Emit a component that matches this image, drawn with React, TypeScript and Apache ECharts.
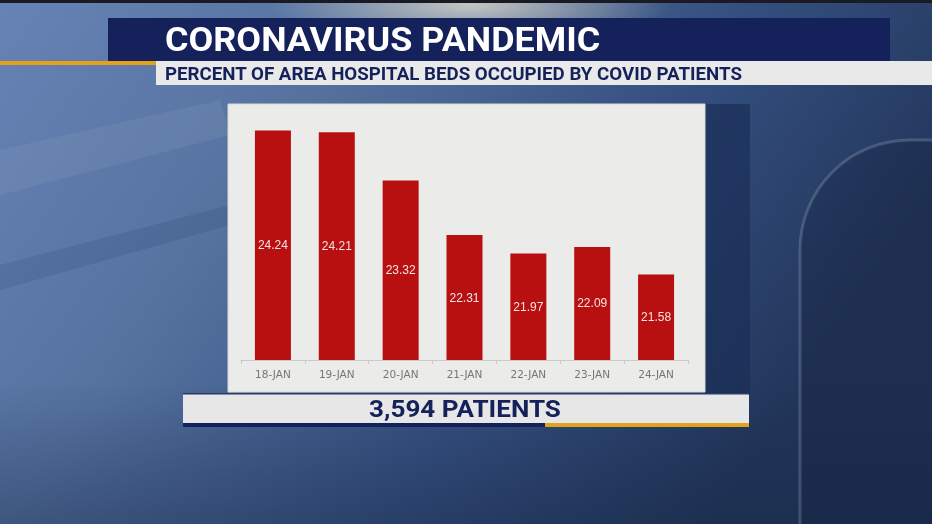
import React, { useEffect, useRef } from "react";
import * as echarts from "echarts";

const categories = ["18-JAN", "19-JAN", "20-JAN", "21-JAN", "22-JAN", "23-JAN", "24-JAN"];
const occupiedPct = [24.24, 24.21, 23.32, 22.31, 21.97, 22.09, 21.58];
const titleText = "CORONAVIRUS PANDEMIC";
const subtitleText = "PERCENT OF AREA HOSPITAL BEDS OCCUPIED BY COVID PATIENTS";
const footerText = "3,594 PATIENTS";

const NAVY = "#15215a";
const ORANGE = "#e3a21a";

export default function App() {
  const ref = useRef<HTMLDivElement>(null);
  useEffect(() => {
    if (!ref.current) return;
    const chart = echarts.init(ref.current, null, { renderer: "svg" });
    const bgGrad = new echarts.graphic.LinearGradient(0, 0, 1, 0.4, [
      { offset: 0, color: "#6783b6" },
      { offset: 0.35, color: "#55729f" },
      { offset: 0.7, color: "#344f7f" },
      { offset: 1, color: "#22365a" },
    ]);
    const bottomShade = new echarts.graphic.LinearGradient(0, 0, 0, 1, [
      { offset: 0, color: "rgba(20,35,65,0)" },
      { offset: 1, color: "rgba(20,35,65,0.35)" },
    ]);
    const topGlow = new echarts.graphic.RadialGradient(0.5, 0.5, 0.5, [
      { offset: 0, color: "rgba(225,220,205,0.8)" },
      { offset: 1, color: "rgba(225,220,205,0)" },
    ]);
    chart.setOption({
      animation: false,
      grid: { left: 241, right: 244, top: 89.5, bottom: 164 },
      xAxis: {
        type: "category",
        data: categories,
        axisLine: { lineStyle: { color: "#c9c9c9", width: 1 } },
        axisTick: { show: true, length: 4, lineStyle: { color: "#c9c9c9" } },
        axisLabel: { color: "#767676", fontSize: 10.5, fontFamily: "DejaVu Sans", margin: 8 },
      },
      yAxis: { type: "value", min: 20, max: 25, show: false, splitLine: { show: false } },
      series: [
        {
          type: "bar",
          data: occupiedPct,
          barWidth: 36,
          z: 5,
          itemStyle: { color: "#b81010" },
          label: {
            show: true,
            position: "inside",
            color: "#f4e4e4",
            fontSize: 12,
            fontFamily: "Liberation Sans",
            formatter: (p: any) => p.value.toFixed(2),
          },
        },
      ],
      graphic: [
        { type: "rect", z: -10, shape: { x: 0, y: 0, width: 932, height: 524 }, style: { fill: bgGrad } },
        { type: "ellipse", z: -9, shape: { cx: 470, cy: 5, rx: 200, ry: 45 }, style: { fill: topGlow } },
        { type: "rect", z: -9, shape: { x: 0, y: 0, width: 932, height: 3 }, style: { fill: "#1a1a22" } },
        { type: "polygon", z: -9, shape: { points: [[0, 150], [220, 100], [230, 135], [0, 195]] }, style: { fill: "rgba(255,255,255,0.06)" } },
        { type: "polygon", z: -9, shape: { points: [[0, 265], [230, 205], [230, 225], [0, 290]] }, style: { fill: "rgba(20,40,80,0.12)" } },
        { type: "rect", z: -9, shape: { x: 0, y: 380, width: 932, height: 144 }, style: { fill: bottomShade } },
        { type: "rect", z: -9, shape: { x: 800, y: 140, width: 150, height: 400, r: [110, 0, 0, 0] }, style: { fill: "rgba(15,25,50,0.25)", stroke: "rgba(170,190,220,0.25)", lineWidth: 3 } },
        // panel backdrop
        { type: "rect", z: -5, shape: { x: 705, y: 104, width: 45, height: 291 }, style: { fill: "rgba(25,45,85,0.65)" } },
        { type: "rect", z: -5, shape: { x: 228, y: 104, width: 477, height: 288 }, style: { fill: "#ebebea", stroke: "#d8d8d8", lineWidth: 1 } },
        // title banner
        { type: "rect", z: 10, shape: { x: 108, y: 18, width: 782, height: 43 }, style: { fill: NAVY } },
        { type: "rect", z: 10, shape: { x: 0, y: 61, width: 156, height: 4 }, style: { fill: ORANGE } },
        { type: "rect", z: 10, shape: { x: 156, y: 61, width: 776, height: 24 }, style: { fill: "#e9e9ea" } },
        {
          type: "text", z: 11, x: 165, y: 40, scaleX: 1.09,
          style: { text: titleText, fill: "#ffffff", fontSize: 33, fontWeight: "bold", fontFamily: "Roboto", verticalAlign: "middle", align: "left" },
        },
        {
          type: "text", z: 11, x: 165, y: 74, scaleX: 1.07,
          style: { text: subtitleText, fill: NAVY, fontSize: 17.5, fontWeight: "bold", fontFamily: "Roboto", verticalAlign: "middle", align: "left" },
        },
        // footer banner
        { type: "rect", z: 10, shape: { x: 183, y: 394, width: 566, height: 29 }, style: { fill: "#e7e7e7" } },
        { type: "rect", z: 10, shape: { x: 183, y: 393, width: 566, height: 1.5 }, style: { fill: "#2a3a6a" } },
        { type: "rect", z: 10, shape: { x: 183, y: 423, width: 362, height: 4 }, style: { fill: NAVY } },
        { type: "rect", z: 10, shape: { x: 545, y: 423, width: 204, height: 4 }, style: { fill: ORANGE } },
        {
          type: "text", z: 11, x: 465, y: 409, scaleX: 1.11,
          style: { text: footerText, fill: NAVY, fontSize: 23.5, fontWeight: "bold", fontFamily: "Roboto", verticalAlign: "middle", align: "center" },
        },
      ],
    });
    return () => chart.dispose();
  }, []);
  return <div ref={ref} style={{ position: "fixed", left: 0, top: 0, width: 932, height: 524 }} />;
}
